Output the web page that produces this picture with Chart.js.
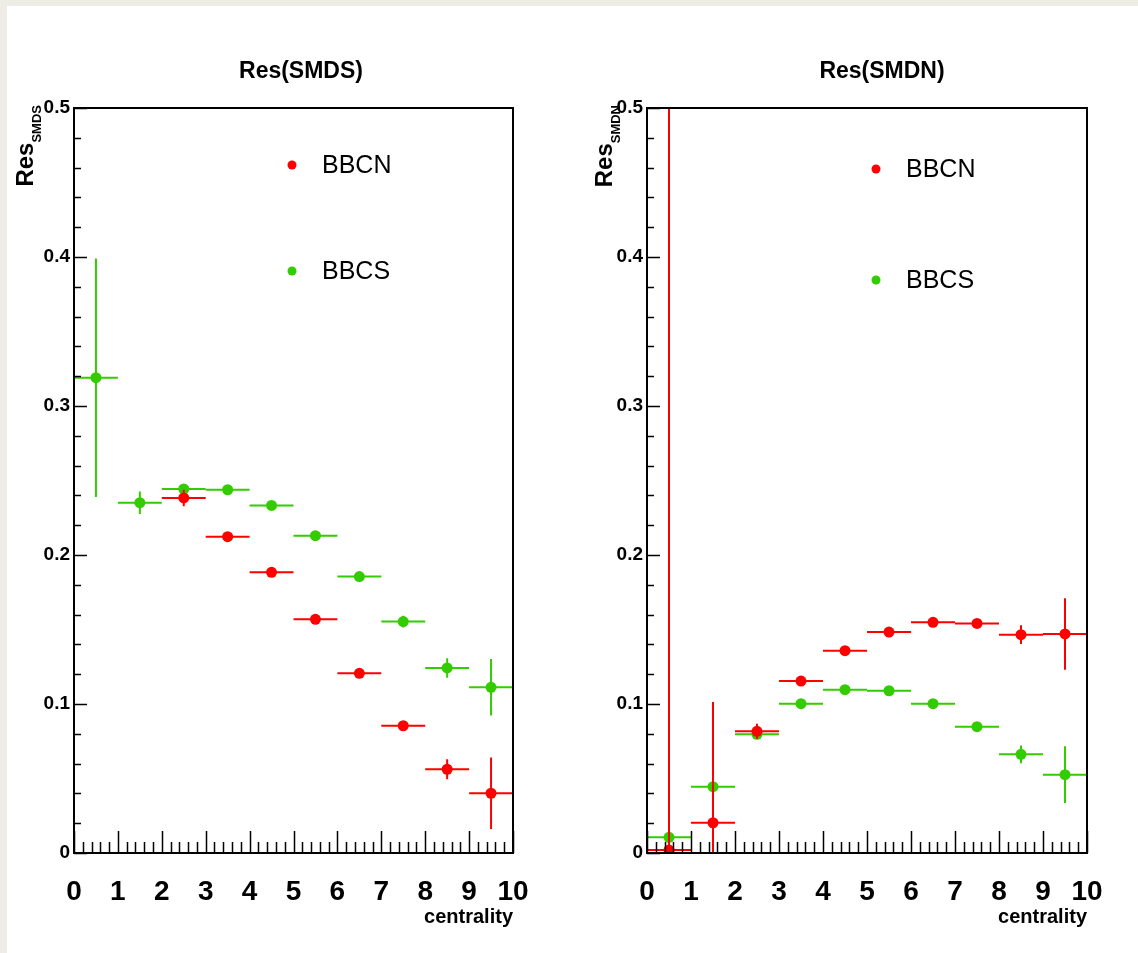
<!DOCTYPE html>
<html>
<head>
<meta charset="utf-8">
<script src="https://cdn.jsdelivr.net/npm/chart.js@4.4.1/dist/chart.umd.min.js"></script>
<style>
  html, body { margin: 0; padding: 0; overflow: hidden; }
  body { width: 1138px; height: 953px; background: #eeede5; position: relative; }
  #pad { position: absolute; left: 7px; top: 6px; right: 0; bottom: 0; background: #fff; }
  canvas { position: absolute; top: 0; }
  #cSMDS { left: 0; }
  #cSMDN { left: 569px; }
</style>
</head>
<body>
<div id="pad"></div>
<canvas id="cSMDS" width="569" height="953"></canvas>
<canvas id="cSMDN" width="569" height="953"></canvas>
<script>
// centrality bins (centres, half width 0.5)
const binCenters = [0.5, 1.5, 2.5, 3.5, 4.5, 5.5, 6.5, 7.5, 8.5, 9.5];
const binHalfWidth = 0.5;

// Res(SMDS)
const smdsBbcn    = [null, null, 0.2383, 0.2123, 0.1884, 0.1568, 0.1206, 0.0854, 0.0562, 0.0401];
const smdsBbcnErr = [null, null, 0.0055, 0.0015, 0.0015, 0.0015, 0.0015, 0.0030, 0.0067, 0.0240];
const smdsBbcs    = [0.3190, 0.2351, 0.2443, 0.2438, 0.2333, 0.2130, 0.1855, 0.1553, 0.1242, 0.1112];
const smdsBbcsErr = [0.0800, 0.0075, 0.0020, 0.0015, 0.0015, 0.0015, 0.0020, 0.0040, 0.0065, 0.0190];

// Res(SMDN)
const smdnBbcn    = [0.0020, 0.0203, 0.0817, 0.1154, 0.1358, 0.1483, 0.1548, 0.1541, 0.1465, 0.1470];
const smdnBbcnErr = [0.6000, 0.0810, 0.0050, 0.0015, 0.0015, 0.0015, 0.0015, 0.0025, 0.0063, 0.0240];
const smdnBbcs    = [0.0105, 0.0445, 0.0797, 0.1002, 0.1096, 0.1089, 0.1002, 0.0848, 0.0662, 0.0526];
const smdnBbcsErr = [0.0030, 0.0060, 0.0020, 0.0015, 0.0015, 0.0015, 0.0015, 0.0020, 0.0060, 0.0190];

const xTickLabels = ['0', '1', '2', '3', '4', '5', '6', '7', '8', '9', '10'];
const yTickLabels = ['0', '0.1', '0.2', '0.3', '0.4', '0.5'];

const RED = '#ff0000';
const GREEN = '#33cc00';
const FONT = '"Liberation Sans", Arial, Helvetica, sans-serif';
Chart.defaults.font.family = FONT;

function points(vals, errs) {
  const out = [];
  vals.forEach((v, i) => {
    if (v === null) return;
    out.push({ x: binCenters[i], y: v, ex: binHalfWidth, ey: errs[i] });
  });
  return out;
}

// ROOT-like decorations: error bars, inner ticks, frame, titles, legend
const rootStyle = {
  id: 'rootStyle',
  beforeDatasetDraw(chart, args) {
    const ds = chart.data.datasets[args.index];
    const xs = chart.scales.x, ys = chart.scales.y;
    const a = chart.chartArea;
    const ctx = chart.ctx;
    ctx.save();
    ctx.beginPath();
    ctx.rect(a.left, a.top, a.right - a.left, a.bottom - a.top);
    ctx.clip();
    ctx.strokeStyle = ds.borderColor;
    ctx.lineWidth = 2;
    ds.data.forEach(p => {
      const py = ys.getPixelForValue(p.y);
      const px = xs.getPixelForValue(p.x);
      ctx.beginPath();
      ctx.moveTo(xs.getPixelForValue(p.x - p.ex), py);
      ctx.lineTo(xs.getPixelForValue(p.x + p.ex), py);
      ctx.moveTo(px, ys.getPixelForValue(p.y - p.ey));
      ctx.lineTo(px, ys.getPixelForValue(p.y + p.ey));
      ctx.stroke();
    });
    ctx.restore();
  },
  afterDraw(chart, args, opts) {
    const xs = chart.scales.x, ys = chart.scales.y;
    const a = chart.chartArea;
    const ctx = chart.ctx;
    ctx.save();
    ctx.strokeStyle = '#000';

    // inner tick marks on the bottom and left axes
    ctx.lineWidth = 1.5;
    ctx.beginPath();
    for (let i = 0; i <= 50; i++) {
      const px = Math.round(xs.getPixelForValue(i * 0.2)) + 0.5;
      const len = i % 5 === 0 ? 22 : 11;
      ctx.moveTo(px, a.bottom);
      ctx.lineTo(px, a.bottom - len);
    }
    for (let i = 0; i <= 25; i++) {
      const py = Math.round(ys.getPixelForValue(i * 0.02)) + 0.5;
      const len = i % 5 === 0 ? 13 : 7;
      ctx.moveTo(a.left, py);
      ctx.lineTo(a.left + len, py);
    }
    ctx.stroke();

    // frame
    ctx.lineWidth = 2;
    ctx.strokeRect(a.left, a.top, a.right - a.left, a.bottom - a.top);

    // histogram title
    ctx.fillStyle = '#000';
    ctx.font = 'bold 23px ' + FONT;
    ctx.textAlign = 'center';
    ctx.textBaseline = 'middle';
    ctx.fillText(opts.title, opts.titleX, 72);

    // y axis title with subscript, rotated
    ctx.save();
    ctx.translate(opts.yTitleX, a.top - 3);
    ctx.rotate(-Math.PI / 2);
    ctx.textAlign = 'left';
    ctx.textBaseline = 'alphabetic';
    ctx.font = 'bold 13px ' + FONT;
    const wSub = ctx.measureText(opts.ySub).width;
    ctx.font = 'bold 24px ' + FONT;
    const wRes = ctx.measureText('Res').width;
    ctx.fillText('Res', -(wRes + wSub), 0);
    ctx.font = 'bold 13px ' + FONT;
    ctx.fillText(opts.ySub, -wSub, 8);
    ctx.restore();

    // legend
    ctx.font = '25px ' + FONT;
    ctx.textAlign = 'left';
    ctx.textBaseline = 'middle';
    opts.legend.forEach(item => {
      ctx.fillStyle = item.color;
      ctx.beginPath();
      ctx.arc(item.x, item.y, 4.5, 0, Math.PI * 2);
      ctx.fill();
      ctx.fillStyle = '#000';
      ctx.fillText(item.label, item.x + 30, item.y + 1);
    });
    ctx.restore();
  }
};

function makePanel(canvasId, bbcn, bbcnErr, bbcs, bbcsErr, deco, areaLeft, padRight) {
  return new Chart(document.getElementById(canvasId), {
    type: 'scatter',
    data: {
      datasets: [
        { label: 'BBCN', data: points(bbcn, bbcnErr), borderColor: RED, backgroundColor: RED,
          pointRadius: 5.5, pointHoverRadius: 5.5, borderWidth: 0 },
        { label: 'BBCS', data: points(bbcs, bbcsErr), borderColor: GREEN, backgroundColor: GREEN,
          pointRadius: 5.5, pointHoverRadius: 5.5, borderWidth: 0 }
      ]
    },
    options: {
      responsive: false,
      animation: false,
      events: [],
      layout: { padding: { left: 0, right: padRight, top: 108, bottom: 0 } },
      scales: {
        x: {
          type: 'linear', min: 0, max: 10,
          grid: { display: false, drawTicks: false },
          border: { display: false },
          afterFit: s => { s.height = 100; },
          ticks: {
            stepSize: 1, autoSkip: false, maxRotation: 0, padding: 22, color: '#000',
            font: { size: 28, weight: 'bold' },
            callback: (v, i) => xTickLabels[i]
          },
          title: {
            display: true, text: 'centrality', align: 'end', color: '#000',
            font: { size: 20, weight: 'bold' }, padding: { top: 0, bottom: 24 }
          }
        },
        y: {
          type: 'linear', min: 0, max: 0.5,
          grid: { display: false, drawTicks: false },
          border: { display: false },
          afterFit: s => { s.width = areaLeft; },
          ticks: {
            stepSize: 0.1, autoSkip: false, padding: 4, color: '#000',
            font: { size: 19, weight: 'bold' },
            callback: (v, i) => yTickLabels[i]
          }
        }
      },
      plugins: {
        legend: { display: false },
        tooltip: { enabled: false },
        rootStyle: deco
      }
    },
    plugins: [rootStyle]
  });
}

makePanel('cSMDS', smdsBbcn, smdsBbcnErr, smdsBbcs, smdsBbcsErr, {
  title: 'Res(SMDS)', titleX: 301, ySub: 'SMDS', yTitleX: 33,
  legend: [
    { label: 'BBCN', color: RED, x: 292, y: 165 },
    { label: 'BBCS', color: GREEN, x: 292, y: 271 }
  ]
}, 74, 56);

makePanel('cSMDN', smdnBbcn, smdnBbcnErr, smdnBbcs, smdnBbcsErr, {
  title: 'Res(SMDN)', titleX: 313, ySub: 'SMDN', yTitleX: 43,
  legend: [
    { label: 'BBCN', color: RED, x: 307, y: 169 },
    { label: 'BBCS', color: GREEN, x: 307, y: 280 }
  ]
}, 78, 51);
</script>
</body>
</html>
